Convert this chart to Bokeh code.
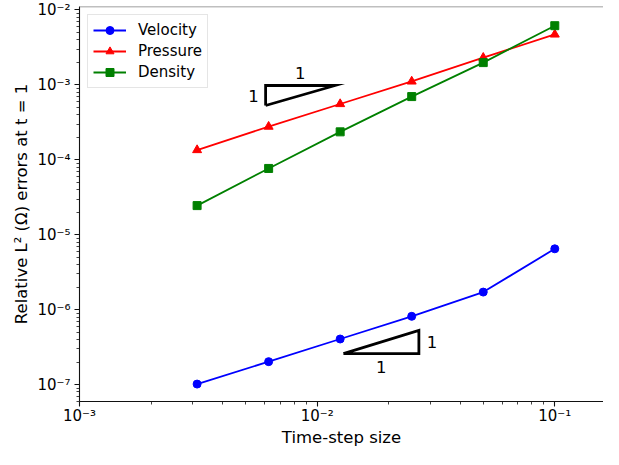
from bokeh.plotting import figure
from bokeh.models import FixedTicker, CustomJSTickFormatter, Span, Range1d
from bokeh.core.properties import value
from bokeh.embed import file_html
from bokeh.resources import INLINE

# ---- data ----
dt = [3.125e-3, 6.25e-3, 1.25e-2, 2.5e-2, 5e-2, 1e-1]
velocity = [1.02e-7, 2.03e-7, 4.07e-7, 8.17e-7, 1.72e-6, 6.50e-6]
pressure = [1.35e-4, 2.77e-4, 5.55e-4, 1.11e-3, 2.30e-3, 4.70e-3]
density = [2.45e-5, 7.67e-5, 2.36e-4, 6.97e-4, 1.98e-3, 6.15e-3]

x_major = [1e-3, 1e-2, 1e-1]
y_major = [1e-7, 1e-6, 1e-5, 1e-4, 1e-3, 1e-2]
x_minor = [k * d for d in [1e-3, 1e-2, 1e-1] for k in range(2, 10)]
y_minor = [k * d for d in [1e-8, 1e-7, 1e-6, 1e-5, 1e-4, 1e-3, 1e-2] for k in range(2, 10)]

# slope triangles (x left, x right, y low, y high)
tri_up_x = [6.07e-3, 1.19e-2]
tri_up_y = [5.3e-4, 9.8e-4]
tri_lo_x = [1.29e-2, 2.68e-2]
tri_lo_y = [2.6e-7, 5.3e-7]
slope_label = "1"

x_lo, x_hi = 1e-3, 10 ** -0.795
y_lo, y_hi = 10 ** -7.224, 10 ** -1.955

FONT = "DejaVu Sans"

p = figure(width=603, height=449, x_axis_type="log", y_axis_type="log",
           x_range=Range1d(x_lo, x_hi), y_range=Range1d(y_lo, y_hi),
           output_backend="svg", toolbar_location=None,
           min_border_left=79, min_border_right=0, min_border_top=6, min_border_bottom=30)
p.outline_line_color = None
p.grid.visible = False
p.background_fill_color = "white"
p.border_fill_color = "white"

fmt = CustomJSTickFormatter(code="""
const sup = {'-':'\\u207b','0':'\\u2070','1':'\\u00b9','2':'\\u00b2','3':'\\u00b3',
             '4':'\\u2074','5':'\\u2075','6':'\\u2076','7':'\\u2077','8':'\\u2078','9':'\\u2079'};
const e = Math.round(Math.log10(tick));
return '10' + String(e).split('').map(c => sup[c]).join('');
""")

p.xaxis.ticker = FixedTicker(ticks=x_major, minor_ticks=x_minor)
p.yaxis.ticker = FixedTicker(ticks=y_major, minor_ticks=y_minor)
for ax in (p.xaxis[0], p.yaxis[0]):
    ax.formatter = fmt
    ax.major_label_text_font = FONT
    ax.major_label_text_font_size = "15px"
    ax.major_label_text_color = "black"
    ax.axis_label_text_font = FONT
    ax.axis_label_text_font_size = "16.5px"
    ax.axis_label_text_font_style = "normal"
    ax.axis_label_text_color = "black"
    ax.axis_line_color = "#111111"
    ax.axis_line_width = 1.1
    ax.major_tick_line_color = "#111111"
    ax.minor_tick_line_color = "#111111"
    ax.major_tick_line_width = 1.1
    ax.minor_tick_line_width = 0.8
    ax.major_tick_out = 5
    ax.major_tick_in = 0
    ax.minor_tick_out = 3
    ax.minor_tick_in = 0

p.xaxis.axis_label = "Time-step size"
p.xaxis.major_label_standoff = 0
p.xaxis.axis_label_standoff = 0
p.yaxis.axis_label = "Relative L\u00b2 (\u03a9) errors at t = 1"
p.yaxis.major_label_standoff = 4
p.yaxis.axis_label_standoff = 3

# top spine
p.add_layout(Span(location=y_hi, dimension="width", line_color="#808080", line_width=1.6))

# series
series = [("Velocity", velocity, "#0000ff", "circle", 8),
          ("Pressure", pressure, "#ff0000", "triangle", 9),
          ("Density", density, "#008000", "square", 8)]
for name, ys, col, mk, sz in series:
    p.line(dt, ys, line_color=col, line_width=1.8, legend_label=name)
    p.scatter(dt, ys, marker=mk, size=sz, fill_color=col, line_color=col, legend_label=name)

# slope triangles
ux0, ux1 = tri_up_x
uy0, uy1 = tri_up_y
p.line([ux0, ux0, ux1, ux0], [uy0, uy1, uy1, uy0], line_color="black", line_width=2.8,
       line_join="miter")
lx0, lx1 = tri_lo_x
ly0, ly1 = tri_lo_y
p.line([lx0, lx1, lx1, lx0], [ly0, ly0, ly1, ly0], line_color="black", line_width=2.8,
       line_join="miter")

ux_mid = (ux0 * ux1) ** 0.5
uy_mid = (uy0 * uy1) ** 0.5
lx_mid = (lx0 * lx1) ** 0.5
ly_mid = (ly0 * ly1) ** 0.5
tk = dict(text_font=value(FONT), text_font_size="16.5px", text_color="black",
          text_align="center", text_baseline="middle")
p.text([ux_mid], [uy1], text=[slope_label], y_offset=-12, **tk)
p.text([ux0], [uy_mid], text=[slope_label], x_offset=-12, **tk)
p.text([lx_mid], [ly0], text=[slope_label], y_offset=13, **tk)
p.text([lx1], [ly_mid], text=[slope_label], x_offset=13, **tk)

lg = p.legend[0]
lg.location = "top_left"
lg.margin = 8
lg.padding = 5
lg.spacing = 1
lg.glyph_width = 33
lg.glyph_height = 20
lg.label_height = 20
lg.label_standoff = 12
lg.label_text_font = FONT
lg.label_text_font_size = "15px"
lg.label_text_color = "black"
lg.border_line_color = "#cccccc"
lg.border_line_width = 1
lg.background_fill_alpha = 0.8

open("out.html", "w", encoding="utf-8").write(file_html(p, INLINE))
